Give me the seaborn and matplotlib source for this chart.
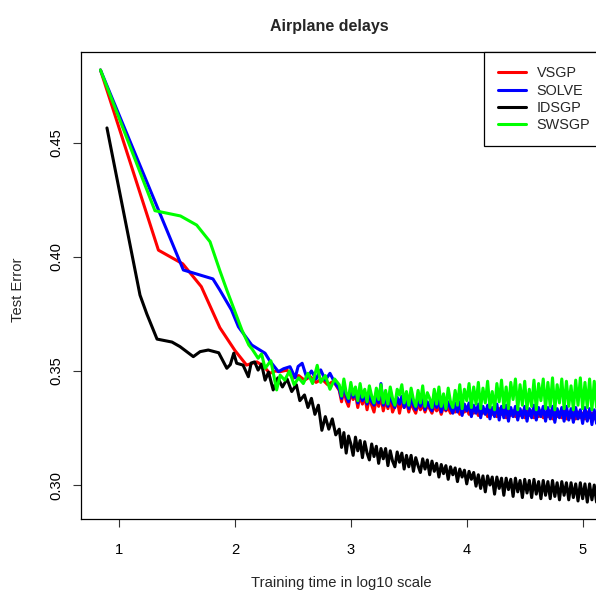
import numpy as np
import pandas as pd
import matplotlib
matplotlib.use("Agg")
import matplotlib.pyplot as plt
from matplotlib.lines import Line2D
import seaborn as sns

sns.set_theme(style="white")
plt.rcParams["font.family"] = ["Liberation Sans", "DejaVu Sans"]

methods = ["VSGP", "SOLVE", "IDSGP", "SWSGP"]
colors = {"VSGP": "#FF0000", "SOLVE": "#0000FF", "IDSGP": "#000000", "SWSGP": "#00FF00"}

# early (sparse) part of each curve: log10 training time, test error
vsgp_head_x = [0.84, 1.34, 1.55, 1.71, 1.87, 2.00, 2.10, 2.19, 2.25, 2.30, 2.35, 2.39, 2.45, 2.50,
               2.55, 2.60, 2.65, 2.70, 2.75, 2.80, 2.85]
vsgp_head_y = [0.482, 0.403, 0.397, 0.387, 0.369, 0.359, 0.3526, 0.354, 0.352, 0.349, 0.350, 0.3497,
               0.3504, 0.3468, 0.348, 0.346, 0.3475, 0.345, 0.3465, 0.344, 0.3455]

solve_head_x = [0.84, 1.555, 1.81, 1.87, 1.97, 2.03, 2.145, 2.26, 2.30, 2.375, 2.42, 2.475, 2.52,
                2.545, 2.58, 2.62, 2.66, 2.70, 2.74, 2.78, 2.82, 2.86]
solve_head_y = [0.482, 0.3943, 0.3904, 0.3855, 0.3768, 0.3694, 0.3614, 0.3578, 0.3545, 0.3497, 0.351,
                0.3519, 0.347, 0.352, 0.3534, 0.347, 0.350, 0.3465, 0.3505, 0.346, 0.349, 0.345]

idsgp_head_x = [0.896, 1.181, 1.24, 1.328, 1.457, 1.526, 1.641, 1.70, 1.77, 1.86, 1.93, 1.96, 1.99,
                2.015, 2.07, 2.116, 2.14, 2.17, 2.20, 2.23, 2.26, 2.29, 2.33, 2.37, 2.41, 2.45,
                2.49, 2.53, 2.56, 2.60, 2.63, 2.66, 2.69, 2.72, 2.75, 2.78, 2.81, 2.84, 2.87]
idsgp_head_y = [0.4566, 0.3833, 0.375, 0.364, 0.3627, 0.3607, 0.3563, 0.3585, 0.3592, 0.358, 0.3512,
                0.3528, 0.3578, 0.3534, 0.3526, 0.3475, 0.3535, 0.354, 0.3504, 0.353, 0.346, 0.3495,
                0.3417, 0.347, 0.343, 0.3465, 0.341, 0.344, 0.337, 0.3395, 0.334, 0.338, 0.331,
                0.335, 0.324, 0.330, 0.3245, 0.329, 0.322]

swsgp_head_x = [0.84, 1.31, 1.53, 1.67, 1.785, 1.87, 1.93, 2.06, 2.12, 2.15, 2.20, 2.23, 2.26, 2.31,
                2.36, 2.39, 2.43, 2.47, 2.51, 2.55, 2.59, 2.63, 2.67, 2.71, 2.74, 2.78, 2.82, 2.86]
swsgp_head_y = [0.482, 0.4203, 0.418, 0.414, 0.4067, 0.394, 0.3855, 0.368, 0.3614, 0.3595, 0.3556,
                0.3575, 0.3512, 0.3545, 0.3417, 0.3482, 0.346, 0.350, 0.344, 0.347, 0.3445, 0.349,
                0.3445, 0.3525, 0.345, 0.348, 0.342, 0.3465]

# dense (noisy) part, shared time grid
tail_x = [2.90, 2.92, 2.94, 2.96, 2.98, 3.00, 3.02, 3.04, 3.06, 3.08,
          3.10, 3.12, 3.14, 3.16, 3.18, 3.20, 3.22, 3.24, 3.26, 3.28,
          3.30, 3.32, 3.34, 3.36, 3.38, 3.40, 3.42, 3.44, 3.46, 3.48,
          3.50, 3.52, 3.54, 3.56, 3.58, 3.60, 3.62, 3.64, 3.66, 3.68,
          3.70, 3.72, 3.74, 3.76, 3.78, 3.80, 3.82, 3.84, 3.86, 3.88,
          3.90, 3.92, 3.94, 3.96, 3.98, 4.00, 4.02, 4.04, 4.06, 4.08,
          4.10, 4.12, 4.14, 4.16, 4.18, 4.20, 4.22, 4.24, 4.26, 4.28,
          4.30, 4.32, 4.34, 4.36, 4.38, 4.40, 4.42, 4.44, 4.46, 4.48,
          4.50, 4.52, 4.54, 4.56, 4.58, 4.60, 4.62, 4.64, 4.66, 4.68,
          4.70, 4.72, 4.74, 4.76, 4.78, 4.80, 4.82, 4.84, 4.86, 4.88,
          4.90, 4.92, 4.94, 4.96, 4.98, 5.00, 5.02, 5.04, 5.06, 5.08,
          5.10, 5.12]

vsgp_tail = [0.3415, 0.3365, 0.3420, 0.3370, 0.3345, 0.3410, 0.3375, 0.3400, 0.3340, 0.3395,
             0.3355, 0.3390, 0.3330, 0.3385, 0.3350, 0.3320, 0.3380, 0.3345, 0.3390, 0.3325,
             0.3375, 0.3335, 0.3380, 0.3320, 0.3345, 0.3375, 0.3315, 0.3370, 0.3340, 0.3365,
             0.3320, 0.3365, 0.3335, 0.3315, 0.3360, 0.3330, 0.3355, 0.3320, 0.3350, 0.3335,
             0.3315, 0.3350, 0.3325, 0.3345, 0.3310, 0.3345, 0.3325, 0.3340, 0.3315, 0.3345,
             0.3320, 0.3340, 0.3310, 0.3345, 0.3320, 0.3335, 0.3310, 0.3340, 0.3315, 0.3335,
             0.3305, 0.3340, 0.3315, 0.3330, 0.3300, 0.3335, 0.3310, 0.3330, 0.3300, 0.3335,
             0.3310, 0.3330, 0.3295, 0.3335, 0.3305, 0.3325, 0.3300, 0.3330, 0.3305, 0.3325,
             0.3295, 0.3330, 0.3305, 0.3325, 0.3295, 0.3330, 0.3300, 0.3325, 0.3295, 0.3320,
             0.3300, 0.3325, 0.3290, 0.3325, 0.3300, 0.3320, 0.3295, 0.3325, 0.3290, 0.3320,
             0.3295, 0.3320, 0.3290, 0.3320, 0.3295, 0.3315, 0.3290, 0.3320, 0.3295, 0.3315,
             0.3290, 0.3315]

solve_tail = [0.3420, 0.3380, 0.3440, 0.3390, 0.3365, 0.3425, 0.3385, 0.3410, 0.3360, 0.3405,
              0.3370, 0.3400, 0.3355, 0.3395, 0.3365, 0.3350, 0.3390, 0.3360, 0.3445, 0.3350,
              0.3385, 0.3345, 0.3395, 0.3360, 0.3340, 0.3385, 0.3355, 0.3390, 0.3340, 0.3375,
              0.3335, 0.3380, 0.3350, 0.3330, 0.3375, 0.3345, 0.3385, 0.3330, 0.3365, 0.3345,
              0.3325, 0.3370, 0.3340, 0.3375, 0.3320, 0.3360, 0.3330, 0.3365, 0.3335, 0.3315,
              0.3360, 0.3320, 0.3365, 0.3305, 0.3355, 0.3325, 0.3360, 0.3300, 0.3350, 0.3315,
              0.3355, 0.3295, 0.3345, 0.3310, 0.3350, 0.3290, 0.3340, 0.3300, 0.3355, 0.3285,
              0.3345, 0.3295, 0.3350, 0.3280, 0.3340, 0.3300, 0.3345, 0.3285, 0.3335, 0.3295,
              0.3345, 0.3280, 0.3335, 0.3295, 0.3350, 0.3285, 0.3340, 0.3300, 0.3345, 0.3280,
              0.3340, 0.3290, 0.3345, 0.3275, 0.3335, 0.3295, 0.3340, 0.3280, 0.3345, 0.3285,
              0.3335, 0.3275, 0.3340, 0.3290, 0.3330, 0.3270, 0.3340, 0.3280, 0.3335, 0.3265,
              0.3330, 0.3270]

idsgp_tail = [0.3245, 0.3165, 0.3230, 0.3140, 0.3215, 0.3180, 0.3130, 0.3210, 0.3150, 0.3195,
              0.3120, 0.3190, 0.3140, 0.3110, 0.3180, 0.3125, 0.3170, 0.3095, 0.3160, 0.3115,
              0.3160, 0.3085, 0.3150, 0.3105, 0.3080, 0.3145, 0.3100, 0.3140, 0.3070, 0.3130,
              0.3080, 0.3130, 0.3060, 0.3120, 0.3085, 0.3055, 0.3115, 0.3070, 0.3110, 0.3045,
              0.3105, 0.3060, 0.3095, 0.3035, 0.3090, 0.3050, 0.3085, 0.3025, 0.3080, 0.3045,
              0.3075, 0.3015, 0.3070, 0.3035, 0.3065, 0.3005, 0.3060, 0.3025, 0.3055, 0.2995,
              0.3045, 0.2985, 0.3040, 0.2970, 0.3040, 0.3000, 0.3035, 0.2960, 0.3035, 0.2985,
              0.3030, 0.2955, 0.3030, 0.2980, 0.3025, 0.2950, 0.3030, 0.2970, 0.3020, 0.2945,
              0.3025, 0.2965, 0.3020, 0.2945, 0.3025, 0.2960, 0.3015, 0.2940, 0.3020, 0.2955,
              0.3015, 0.2940, 0.3020, 0.2950, 0.3010, 0.2935, 0.3015, 0.2955, 0.3010, 0.2935,
              0.3010, 0.2945, 0.3005, 0.2930, 0.3010, 0.2940, 0.3005, 0.2925, 0.3005, 0.2935,
              0.3000, 0.2925]

swsgp_tail = [0.3440, 0.3390, 0.3465, 0.3405, 0.3380, 0.3450, 0.3395, 0.3430, 0.3370, 0.3445,
              0.3385, 0.3420, 0.3365, 0.3435, 0.3390, 0.3360, 0.3425, 0.3375, 0.3440, 0.3360,
              0.3415, 0.3355, 0.3430, 0.3380, 0.3350, 0.3420, 0.3395, 0.3440, 0.3360, 0.3410,
              0.3350, 0.3425, 0.3375, 0.3345, 0.3415, 0.3360, 0.3435, 0.3345, 0.3405, 0.3380,
              0.3340, 0.3420, 0.3355, 0.3430, 0.3345, 0.3400, 0.3335, 0.3425, 0.3365, 0.3340,
              0.3415, 0.3350, 0.3440, 0.3335, 0.3420, 0.3370, 0.3445, 0.3340, 0.3430, 0.3355,
              0.3450, 0.3335, 0.3425, 0.3360, 0.3455, 0.3340, 0.3410, 0.3330, 0.3445, 0.3365,
              0.3460, 0.3340, 0.3430, 0.3335, 0.3450, 0.3375, 0.3465, 0.3330, 0.3440, 0.3350,
              0.3455, 0.3335, 0.3420, 0.3345, 0.3460, 0.3330, 0.3445, 0.3370, 0.3465, 0.3335,
              0.3450, 0.3345, 0.3470, 0.3330, 0.3440, 0.3360, 0.3465, 0.3335, 0.3455, 0.3345,
              0.3435, 0.3330, 0.3460, 0.3350, 0.3470, 0.3335, 0.3450, 0.3340, 0.3465, 0.3330,
              0.3455, 0.3340]

x_ticks = [1, 2, 3, 4, 5]
y_ticks = [0.30, 0.35, 0.40, 0.45]
y_tick_labels = ["0.30", "0.35", "0.40", "0.45"]

heads = {"VSGP": (vsgp_head_x, vsgp_head_y), "SOLVE": (solve_head_x, solve_head_y),
         "IDSGP": (idsgp_head_x, idsgp_head_y), "SWSGP": (swsgp_head_x, swsgp_head_y)}
tails = {"VSGP": vsgp_tail, "SOLVE": solve_tail, "IDSGP": idsgp_tail, "SWSGP": swsgp_tail}

rows = []
for m in methods:
    hx, hy = heads[m]
    for xv, yv in zip(list(hx) + tail_x, list(hy) + tails[m]):
        rows.append((m, xv, yv))
df = pd.DataFrame(rows, columns=["method", "time", "error"])

fig = plt.figure(figsize=(5.96, 5.96), dpi=100)
ax = fig.add_axes([81 / 596, 77 / 596, 529 / 596, 467 / 596])
sns.lineplot(data=df, x="time", y="error", hue="method", hue_order=methods, palette=colors,
             estimator=None, sort=False, linewidth=2.2, legend=False, ax=ax)

ax.set_xlim(0.672, 5.236)
ax.set_ylim(0.2851, 0.4899)
ax.set_xticks(x_ticks)
ax.set_xticklabels([str(t) for t in x_ticks])
ax.set_yticks(y_ticks)
ax.set_yticklabels(y_tick_labels, rotation=90, va="center")
ax.set_xlabel("")
ax.set_ylabel("")
for s in ax.spines.values():
    s.set_color("black")
    s.set_linewidth(0.9)
ax.tick_params(axis="both", which="major", direction="out", length=6, width=0.8,
               color="#333333", labelsize=10.6, labelcolor="black", bottom=True, left=True)
ax.tick_params(axis="x", pad=11)
ax.tick_params(axis="y", pad=7)

fig.text(329 / 596, 1 - 27 / 596, "Airplane delays", ha="center", va="center",
         fontsize=11.5, fontweight="bold")
fig.text(341.7 / 596, 1 - 583 / 596, "Training time in log10 scale", ha="center", va="center",
         fontsize=10.6)
fig.text(18 / 596, 1 - 290 / 596, "Test Error", ha="center", va="center", rotation=90,
         fontsize=10.6)

handles = [Line2D([0], [0], color=colors[m], lw=2.2) for m in methods]
leg = fig.legend(handles, methods, loc="upper left", bbox_to_anchor=(484 / 596, 1 - 52 / 596),
                 bbox_transform=fig.transFigure, frameon=True, fancybox=False, fontsize=10.4,
                 handlelength=1.9, handletextpad=0.75, labelspacing=0.22, borderpad=1.0,
                 borderaxespad=0.0)
leg.get_frame().set_edgecolor("black")
leg.get_frame().set_linewidth(0.9)
leg.get_frame().set_alpha(1)

fig.savefig("out.png", dpi=100)
